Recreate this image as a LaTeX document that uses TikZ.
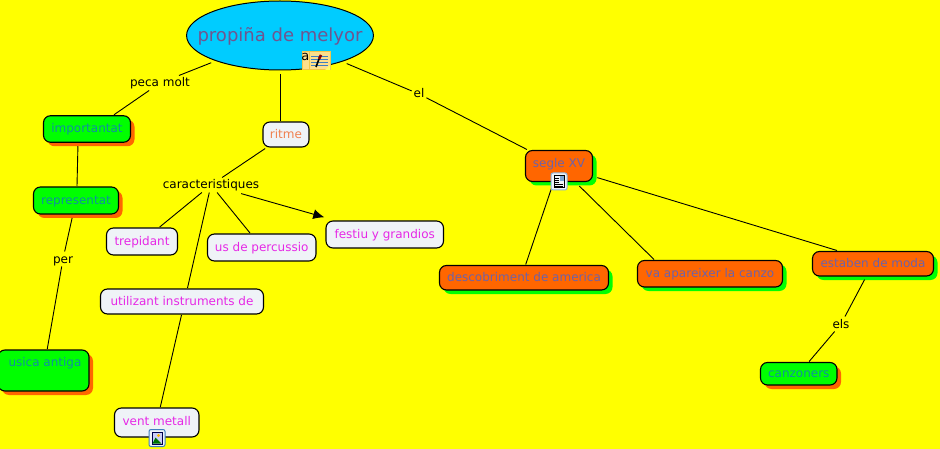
\documentclass[tikz,border=0pt]{standalone}
\usepackage{fontspec}
\setmainfont{DejaVu Sans}
\usetikzlibrary{
  shapes.geometric,
  shadows,
  positioning,
  arrows.meta
}
\definecolor{mapyellow}{HTML}{FFFF00}
\definecolor{mapcyan}{HTML}{00CCFF}
\definecolor{mapgreen}{HTML}{00FF00}
\definecolor{maporange}{HTML}{FF6600}
\definecolor{mapwhite}{HTML}{EFF3F7}
\definecolor{rootink}{HTML}{70558F}
\definecolor{greenink}{HTML}{1090A0}
\definecolor{orangeink}{HTML}{6E62A8}
\definecolor{whiteink}{HTML}{E628E6}
\definecolor{ritmeink}{HTML}{F08050}
\definecolor{notefill}{HTML}{FDE08C}
\definecolor{noteedge}{HTML}{F2C84B}
\definecolor{iconedge}{HTML}{3F7FC0}
\tikzset{
  box/.style = {draw=black,line width=1.1pt,rounded corners=7pt,inner sep=0pt,
    font=\fontsize{12}{14}\selectfont,outer sep=1pt,text height=9.5pt,text depth=1.5pt},
  greenbox/.style = {box,fill=mapgreen,text=greenink,
    drop shadow={opacity=1,fill=maporange,shadow xshift=4pt,shadow yshift=-4pt}},
  orangebox/.style = {box,fill=maporange,text=orangeink,
    drop shadow={opacity=1,fill=mapgreen,shadow xshift=4pt,shadow yshift=-4pt}},
  whitebox/.style = {box,fill=mapwhite,text=whiteink},
  word/.style = {inner sep=0pt,outer sep=2pt,text=black,font=\fontsize{12}{14}\selectfont,
    text height=9.5pt,text depth=1.5pt},
  link/.style = {draw=black,line width=.9pt},
  size/.style n args = {2}{minimum width=#1pt,minimum height=#2pt}
}
\begin{document}
\begin{tikzpicture}[x=1pt,y=-1pt,on grid]
      \fill[mapyellow] (0,0) rectangle (940,449);
      \useasboundingbox (0,0) rectangle (940,449);

      \node[ellipse,draw=black,line width=1pt,fill=mapcyan,text=rootink,inner ysep=0pt,inner xsep=-16.4pt,outer sep=4pt,
        minimum height=69pt,text height=14pt,text depth=1.6pt,font=\fontsize{18}{22}\selectfont] (root) at (280,35.5) {propiña de melyor};

      % left branch
      \node[word,below left = 47.5pt and 120pt of root] (pecamolt) {peca molt};
      \node[greenbox,size={87}{26.5},below left = 46pt and 73pt of pecamolt] (importantat) {importantat};
      \node[greenbox,size={85}{27},below left = 71.5pt and 11pt of importantat] (representat) {representat};
      \node[word,below left = 58.5pt and 13pt of representat] (per) {per};
      \node[greenbox,size={91}{41},text depth=17pt,below left = 111.5pt and 19.5pt of per] (usica) {\hspace*{3pt}usica antiga};

      % middle branch
      \node[whitebox,text=ritmeink,size={46}{25},below right = 99pt and 6pt of root] (ritme) {ritme};
      \node[word,below left = 50.5pt and 75pt of ritme] (caracteristiques) {caracteristiques};
      \node[whitebox,size={71}{27},below left = 56.5pt and 69pt of caracteristiques] (trepidant) {trepidant};
      \node[whitebox,size={108.5}{27},below right = 62.5pt and 50.75pt of caracteristiques] (percussio) {us de percussio};
      \node[whitebox,size={117.5}{27},below right = 49.5pt and 173.75pt of caracteristiques] (festiu) {festiu y grandios};
      \node[whitebox,size={163}{25},below left = 116.5pt and 29pt of caracteristiques] (utilizant) {utilizant instruments de};
      \node[whitebox,size={84.5}{29},text depth=4pt,below left = 121pt and 25.25pt of utilizant] (vent) {vent metall};

      % right branch
      \node[word,below right = 58.5pt and 139pt of root] (el) {el};
      \node[orangebox,size={67}{31},text depth=6pt,below right = 72pt and 140pt of el] (segle) {segle XV};
      \node[orangebox,size={169}{24.5},below left = 111.75pt and 35pt of segle] (descobriment) {descobriment de america};
      \node[orangebox,size={145}{26.5},below right = 107.75pt and 151pt of segle] (apareixer) {va apareixer la canzo};
      \node[orangebox,size={121}{24.5},below right = 97.75pt and 314pt of segle] (estaben) {estaben de moda};
      \node[word,below left = 60.25pt and 32pt of estaben] (els) {els};
      \node[greenbox,size={76.5}{22.5},below left = 49.75pt and 42.25pt of els] (canzoners) {canzoners};

      \draw[link] (root) -- (pecamolt);
      \draw[link] (pecamolt) -- ([xshift=27pt]importantat.north);
      \draw[link,shorten <=3pt] ([xshift=-9pt]importantat.south) -- ([xshift=1pt]representat.north);
      \draw[link,shorten <=3pt] (representat) -- (per);
      \draw[link] (per) -- (usica);
      \draw[link] (root.south) -- (root.south |- ritme.north);
      \draw[link,shorten <=1pt] (ritme) -- (caracteristiques);
      \draw[link] (caracteristiques) -- (trepidant);
      \draw[link] (caracteristiques) -- (percussio);
      \draw[link] (caracteristiques) -- ([xshift=5.5pt]utilizant.north);
      \draw[link] ([xshift=-.5pt]utilizant.south) -- (vent);
      \draw[link,-{Latex[length=11pt,width=10pt]},shorten <=4pt,shorten >=10pt] (caracteristiques) -- (festiu);
      \draw[link] (root) -- (el);
      \draw[link] (el) -- (segle);
      \draw[link] (segle) -- ([xshift=1.7pt]descobriment.north);
      \draw[link,shorten <=5pt] (segle) -- ([xshift=-56pt]apareixer.north);
      \draw[link,shorten <=4pt] (segle) -- ([xshift=-36pt]estaben.north);
      \draw[link,shorten <=3pt] (estaben) -- (els);
      \draw[link] (els) -- (canzoners);

      % note icon on the root
      \node[draw=noteedge,fill=notefill,line width=1pt,inner sep=0pt,minimum width=28pt,minimum height=18pt] (noteicon) at (316,61) {};
      \fill[mapyellow!60!white] (330,70) -- (325,70) -- (330,65) -- cycle;
      \draw[noteedge] (309,52) -- (309,70);
      \node[inner sep=0pt,font=\fontsize{13}{13}\selectfont] (notea) at (305.3,57) {a};
      \foreach \y in {56,59,62,65}
        \draw[iconedge,line width=.8pt] (311,\y) -- (328,\y);
      \draw[black,line width=1.6pt] (316,67) -- (319,59);
      \draw[red!50!black,line width=2.6pt] (319,59) -- (321,55);

      % doc icon on segle XV
      \node[draw=iconedge!60!white,fill=mapwhite,line width=1pt,rounded corners=2pt,inner sep=0pt,minimum width=16pt,minimum height=17pt] (docicon) at (559,181.5) {};
      \draw[black,line width=.8pt] (554,175.5) rectangle (564,187.5);
      \fill[iconedge!70!white] (559.5,176.5) rectangle (563.5,181);
      \foreach \y in {178,180,182}
        \draw[black,line width=.6pt] (555,\y) -- (559,\y);
      \foreach \y in {184,186}
        \draw[black,line width=.6pt] (555,\y) -- (563,\y);

      % picture icon on vent metall
      \node[draw=iconedge,fill=mapwhite,line width=1pt,rounded corners=2pt,inner sep=0pt,minimum width=16pt,minimum height=17pt] (picicon) at (157,438) {};
      \fill[black!70!blue] (151.5,431.5) rectangle (162.5,444.5);
      \fill[mapwhite!85!blue] (152.5,432.5) rectangle (161.5,443.5);
      \fill[green!45!black] (152.5,443.5) -- (155.5,437.5) -- (158,440) -- (161.5,443.5) -- cycle;
      \fill[orange!60!yellow] (158.5,435.5) circle (1.6pt);
    \end{tikzpicture}
\end{document}
